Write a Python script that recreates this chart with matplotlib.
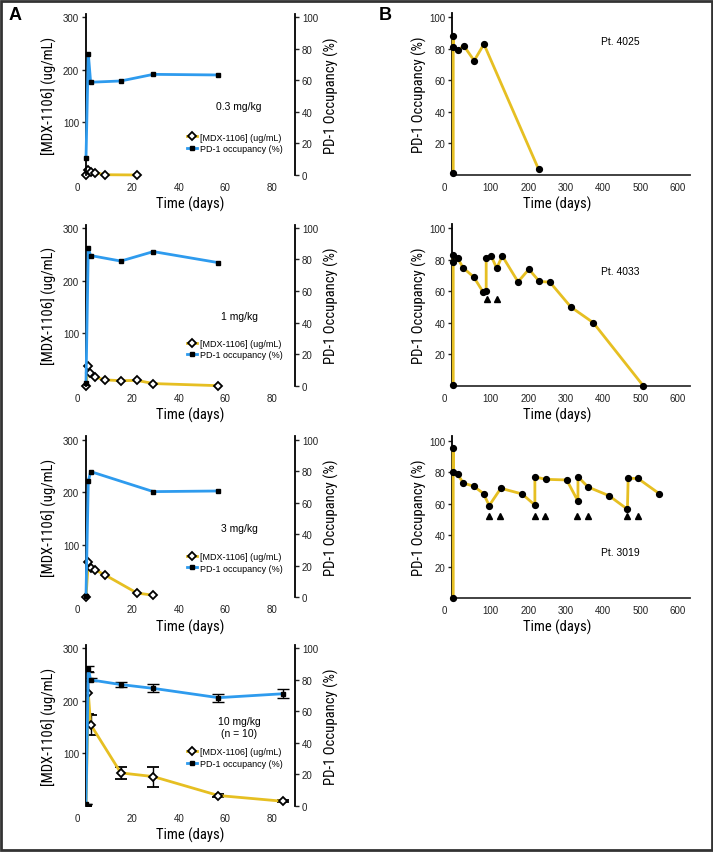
import matplotlib
matplotlib.use('Agg')
import matplotlib.pyplot as plt
import matplotlib.transforms as mtransforms
from matplotlib.lines import Line2D
from matplotlib.patches import Rectangle

plt.rcParams['font.family'] = ['Liberation Sans', 'DejaVu Sans']
LABEL_FONT = ['Roboto Condensed', 'Archivo Narrow', 'Asap Condensed', 'DejaVu Sans']

YELLOW = '#E6BF22'
BLUE = '#2E9BEE'

# ---- panel A: serum MDX-1106 and PD-1 occupancy by dose cohort ----
doses = ['0.3 mg/kg', '1 mg/kg', '3 mg/kg', '10 mg/kg\n(n = 10)']

occ_days = [[0, 1, 2, 15, 29, 57],
            [0, 1, 2, 15, 29, 57],
            [0, 1, 2, 29, 57],
            [0, 1, 2, 15, 29, 57, 85]]
occ_vals = [[10.6, 77, 58.8, 59.6, 63.8, 63.4],
            [2, 87, 82.5, 79, 85, 78],
            [1, 73.6, 79.7, 67, 67.4],
            [1, 87, 80, 77, 74.6, 68.7, 71.2]]

conc_days = [[0, 1, 2, 4, 8, 22],
             [0, 1, 1.7, 4, 8, 15, 22, 29, 57],
             [0, 1, 2, 4, 8, 22, 29],
             [0, 1, 2, 15, 29, 57, 85]]
conc_vals = [[0, 10, 6.3, 4.4, 0.5, 0],
             [0, 38, 25, 16.5, 11, 9.5, 10, 4, 0],
             [0, 66.6, 56, 52, 43, 8, 4],
             [0, 215, 155, 63, 56, 20, 9]]

# error bars only for the 10 mg/kg cohort
occ_err_10 = [0, 2, 1, 1.5, 2.5, 2.5, 3]
conc_err_10 = [0, 40, 19, 12, 19, 3, 2]

# ---- panel B: PD-1 occupancy in individual patients ----
patients = ['Pt. 4025', 'Pt. 4033', 'Pt. 3019']
pt_days = [[0, 0, 0, 12, 28, 56, 82, 228],
           [0, 0, 0, 12, 26, 55, 80, 88, 88, 102, 116, 131, 173, 202, 230, 258, 314, 374, 507],
           [0, 0, 0, 12, 27, 55, 81, 96, 127, 184, 218, 218, 247, 303, 333, 333, 360, 416, 465, 467, 493, 550]]
pt_vals = [[1, 88, 81, 79, 82, 72.5, 83, 3.4],
           [0.6, 83.3, 78.9, 81, 75, 69, 59.4, 60, 81.4, 82.2, 74.6, 82.4, 66, 74, 66.2, 65.8, 50, 40, 0],
           [0, 95.6, 80, 78.5, 73, 71, 66.3, 58.7, 69.7, 66.1, 59, 77, 75.4, 75, 61.5, 77, 70.5, 65, 56.4, 76, 76, 66.3]]
# dosing markers (triangles)
dose_days = [[],
             [89, 116],
             [96, 126, 217, 246, 331, 361, 464, 493]]
dose_level = [0, 55, 52]
pt_label_y = [85, 73, 29.5]

fig = plt.figure(figsize=(7.13, 8.53), dpi=100)

a_bottoms = [0.7937, 0.5467, 0.2986, 0.0539]
b_bottoms = [0.794, 0.5467, 0.2978]
legend_y = [0.11, 0.135, 0.126, 0.21]

shift0 = mtransforms.ScaledTranslation(-0.09, 0, fig.dpi_scale_trans)

for i in range(4):
    ax = fig.add_axes([0.1206, a_bottoms[i], 0.2931, 0.1886])
    ax2 = ax.twinx()
    if i == 3:
        ax.errorbar(conc_days[i], conc_vals[i], yerr=conc_err_10, color=YELLOW, lw=2,
                    marker='D', ms=4, mfc='white', mec='black', mew=1.3,
                    ecolor='black', elinewidth=1, capsize=4, capthick=1)
        ax2.errorbar(occ_days[i], occ_vals[i], yerr=occ_err_10, color=BLUE, lw=2,
                     marker='s', ms=3.5, mfc='black', mec='black',
                     ecolor='black', elinewidth=1, capsize=4, capthick=1)
    else:
        ax.plot(conc_days[i], conc_vals[i], color=YELLOW, lw=2, marker='D', ms=4,
                mfc='white', mec='black', mew=1.3, clip_on=False)
        ax2.plot(occ_days[i], occ_vals[i], color=BLUE, lw=2, marker='s', ms=3.5,
                 mfc='black', mec='black', clip_on=False)

    ax.set_xlim(0, 90)
    ax.set_ylim(0, 306)
    ax2.set_ylim(0, 102)
    ax.set_yticks([100, 200, 300])
    ax2.set_yticks([0, 20, 40, 60, 80, 100])
    ax.set_xticks([0, 20, 40, 60, 80])
    for a in (ax, ax2):
        a.spines['top'].set_visible(False)
        a.spines['bottom'].set_visible(False)
        a.tick_params(labelsize=7, length=3, width=1, pad=2, colors='#222222')
        a.tick_params(axis='x', length=0, pad=5)
    ax.spines['right'].set_visible(False)
    ax.spines['left'].set_linewidth(1.3)
    ax2.spines['left'].set_visible(False)
    ax2.spines['right'].set_linewidth(1.3)
    ax.get_xticklabels()[0].set_transform(ax.get_xticklabels()[0].get_transform() + shift0)

    ax.set_xlabel('Time (days)', fontsize=10.5, family=LABEL_FONT, labelpad=3)
    ax.set_ylabel('[MDX-1106] (ug/mL)', fontsize=10.5, family=LABEL_FONT, labelpad=4)
    ax2.set_ylabel('PD-1 Occupancy (%)', fontsize=10.5, family=LABEL_FONT, labelpad=4)

    ax2.text(66, 44 if i < 3 else 50, doses[i], fontsize=7.5, ha='center', va='center')

    handles = [Line2D([], [], color=YELLOW, lw=2, marker='D', ms=4, mfc='white', mec='black', mew=1.3),
               Line2D([], [], color=BLUE, lw=2, marker='s', ms=3.5, mfc='black', mec='black')]
    ax2.legend(handles, ['[MDX-1106] (ug/mL)', 'PD-1 occupancy (%)'], loc='lower left',
               bbox_to_anchor=(0.46, legend_y[i]), frameon=False, fontsize=6.5,
               handlelength=1.2, handletextpad=0.3, labelspacing=0.25, borderpad=0,
               markerfirst=True)

for i in range(3):
    ax = fig.add_axes([0.6346, b_bottoms[i], 0.3331, 0.19])
    ax.plot(pt_days[i], pt_vals[i], color=YELLOW, lw=2, marker='o', ms=4.2,
            mfc='black', mec='black', clip_on=False, zorder=3)
    if dose_days[i]:
        ax.plot(dose_days[i], [dose_level[i]] * len(dose_days[i]), ls='none',
                marker='^', ms=4.5, color='black')
    ax.set_xlim(-2, 632)
    ax.set_ylim(0, 103)
    ax.set_xticks([0, 100, 200, 300, 400, 500, 600])
    ax.set_yticks([20, 40, 60, 80, 100])
    ax.spines['top'].set_visible(False)
    ax.spines['right'].set_visible(False)
    ax.spines['left'].set_linewidth(1.3)
    ax.spines['bottom'].set_linewidth(1.3)
    ax.spines['bottom'].set_color('#333333')
    ax.tick_params(labelsize=7, length=3, width=1, pad=2, colors='#222222')
    ax.tick_params(axis='x', length=0, pad=5)
    ax.get_xticklabels()[0].set_transform(ax.get_xticklabels()[0].get_transform() + shift0)
    ax.set_xlabel('Time (days)', fontsize=10.5, family=LABEL_FONT, labelpad=3)
    ax.xaxis.set_label_coords(0.44, -0.13)
    ax.set_ylabel('PD-1 Occupancy (%)', fontsize=10.5, family=LABEL_FONT, labelpad=2)
    ax.text(445, pt_label_y[i], patients[i], fontsize=7.5, ha='center', va='center')

fig.text(0.021, 0.982, 'A', fontsize=13, fontweight='bold', ha='center', va='center')
fig.text(0.54, 0.982, 'B', fontsize=13, fontweight='bold', ha='center', va='center')

fig.patches.append(Rectangle((0.002, 0.002), 0.996, 0.996, transform=fig.transFigure,
                             fill=False, edgecolor='#333333', lw=2))

fig.savefig('out.png', dpi=100)
